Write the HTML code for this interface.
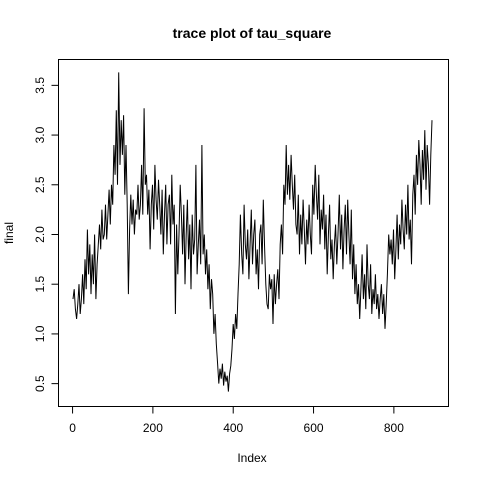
<!DOCTYPE html>
<html><head><meta charset="utf-8"><style>
body{margin:0;background:#fff}
svg text{font-family:"Liberation Sans",Arial,sans-serif}
</style></head><body>
<svg id="chart" width="480" height="480" viewBox="0 0 480 480" xmlns="http://www.w3.org/2000/svg">
<rect width="480" height="480" fill="#fff"/>
<text x="252" y="38" text-anchor="middle" font-size="14" font-weight="bold">trace plot of tau_square</text>
<text x="252" y="462" text-anchor="middle" font-size="12">Index</text>
<text transform="translate(13,233) rotate(-90)" text-anchor="middle" font-size="12">final</text>
<rect x="58.5" y="59.5" width="390" height="347" fill="none" stroke="#000"/>
<g id="axes"></g>
<path id="trace" fill="none" stroke="#000" stroke-width="1"/>
</svg>
<script>
const xTicks=[0,200,400,600,800];
const yTicks=[0.5,1.0,1.5,2.0,2.5,3.0,3.5];
const yTickLabels=["0.5","1.0","1.5","2.0","2.5","3.0","3.5"];
const step=3;
const values=[1.35,1.45,1.25,1.15,1.3,1.5,1.2,1.35,1.6,1.3,1.75,1.45,2.05,1.6,1.9,1.4,1.8,1.5,2.0,1.35,1.7,1.9,2.1,1.85,2.25,1.95,2.0,2.3,1.95,2.2,2.45,2.1,2.5,2.3,2.9,2.6,3.25,2.5,3.63,2.7,3.15,2.8,3.2,2.4,2.9,2.3,1.4,2.05,2.4,2.1,2.35,2.0,2.25,2.2,2.5,2.15,2.3,2.7,2.2,3.27,2.5,2.6,2.2,2.45,1.85,2.3,2.5,2.05,2.7,2.35,2.15,2.55,2.3,2.0,2.45,1.8,2.2,2.5,1.9,2.3,2.4,1.9,2.6,2.1,2.3,1.2,2.1,1.6,2.0,2.5,2.2,1.8,2.3,1.5,2.0,2.35,1.75,2.1,1.45,2.2,1.8,1.95,2.7,1.6,1.9,2.15,1.7,2.9,1.8,2.0,1.6,1.85,1.45,1.7,1.25,1.55,1.4,1.0,1.2,0.9,0.7,0.5,0.65,0.55,0.7,0.48,0.62,0.52,0.58,0.42,0.6,0.68,0.85,1.1,0.95,1.2,1.05,1.4,1.7,2.2,1.8,1.6,2.3,1.9,1.75,2.05,1.55,1.9,2.25,1.7,2.0,2.15,1.6,1.85,1.45,2.0,2.1,1.7,2.35,1.9,1.5,1.3,1.25,1.6,1.45,1.55,1.1,1.6,1.3,1.5,1.65,1.35,1.9,2.1,1.8,2.5,2.3,2.9,2.4,2.7,2.35,2.8,2.5,2.25,2.6,2.1,2.0,2.4,1.8,2.2,1.9,2.35,2.05,1.7,2.15,1.9,2.3,2.0,1.8,2.5,2.2,2.7,2.4,2.15,2.6,1.9,2.25,2.05,2.4,1.85,2.2,1.6,2.0,2.3,1.75,1.95,1.55,1.9,2.1,1.7,2.0,2.4,1.85,2.2,1.65,2.05,2.3,1.8,2.35,2.0,1.7,2.25,1.55,1.9,1.4,1.7,1.3,1.5,1.15,1.45,1.8,1.35,1.6,1.25,1.9,1.5,1.35,1.7,1.2,1.45,1.3,1.6,1.25,1.4,1.15,1.35,1.5,1.2,1.4,1.05,1.3,1.6,2.0,1.8,1.95,1.7,2.05,1.55,1.85,2.2,1.75,2.1,1.9,2.35,2.05,1.85,2.3,2.0,2.5,1.95,2.15,1.7,2.4,2.6,2.2,2.8,2.5,2.95,2.7,2.3,2.85,2.55,3.05,2.45,2.9,2.7,2.3,2.8,3.15];
const xMin=-35,xMax=936,yMin=0.27,yMax=3.76,L=58.5,R=448.5,T=59.5,B=406.5;
const sx=v=>L+(v-xMin)/(xMax-xMin)*(R-L);
const sy=v=>B-(v-yMin)/(yMax-yMin)*(B-T);
const ns="http://www.w3.org/2000/svg";
const ax=document.getElementById('axes');
function line(x1,y1,x2,y2,name){const l=document.createElementNS(ns,'line');l.setAttribute('x1',x1);l.setAttribute('y1',y1);l.setAttribute('x2',x2);l.setAttribute('y2',y2);l.setAttribute('stroke','#000');


ax.appendChild(l);}
function text(x,y,s,tr,name){const t=document.createElementNS(ns,'text');t.setAttribute('x',x);t.setAttribute('y',y);t.setAttribute('font-size','12');t.setAttribute('text-anchor','middle');if(tr)t.setAttribute('transform',tr);t.textContent=s;


ax.appendChild(t);}
line(sx(xTicks[0]),406.5,sx(xTicks[xTicks.length-1]),406.5,'x-axis-line');
xTicks.forEach(v=>{const x=sx(v);line(x,406.5,x,413.5,'x-tick');text(x,432,String(v),null,'x-tick-label');});
line(58.5,sy(yTicks[0]),58.5,sy(yTicks[yTicks.length-1]),'y-axis-line');
yTicks.forEach((v,i)=>{const y=sy(v);line(51.5,y,58.5,y,'y-tick');text(44,y,yTickLabels[i],`rotate(-90,44,${y})`,'y-tick-label');});
let d='';values.forEach((v,i)=>{d+=(i?'L':'M')+sx(1+i*step).toFixed(1)+','+sy(v).toFixed(1);});
document.getElementById('trace').setAttribute('d',d);
</script>
</body></html>
